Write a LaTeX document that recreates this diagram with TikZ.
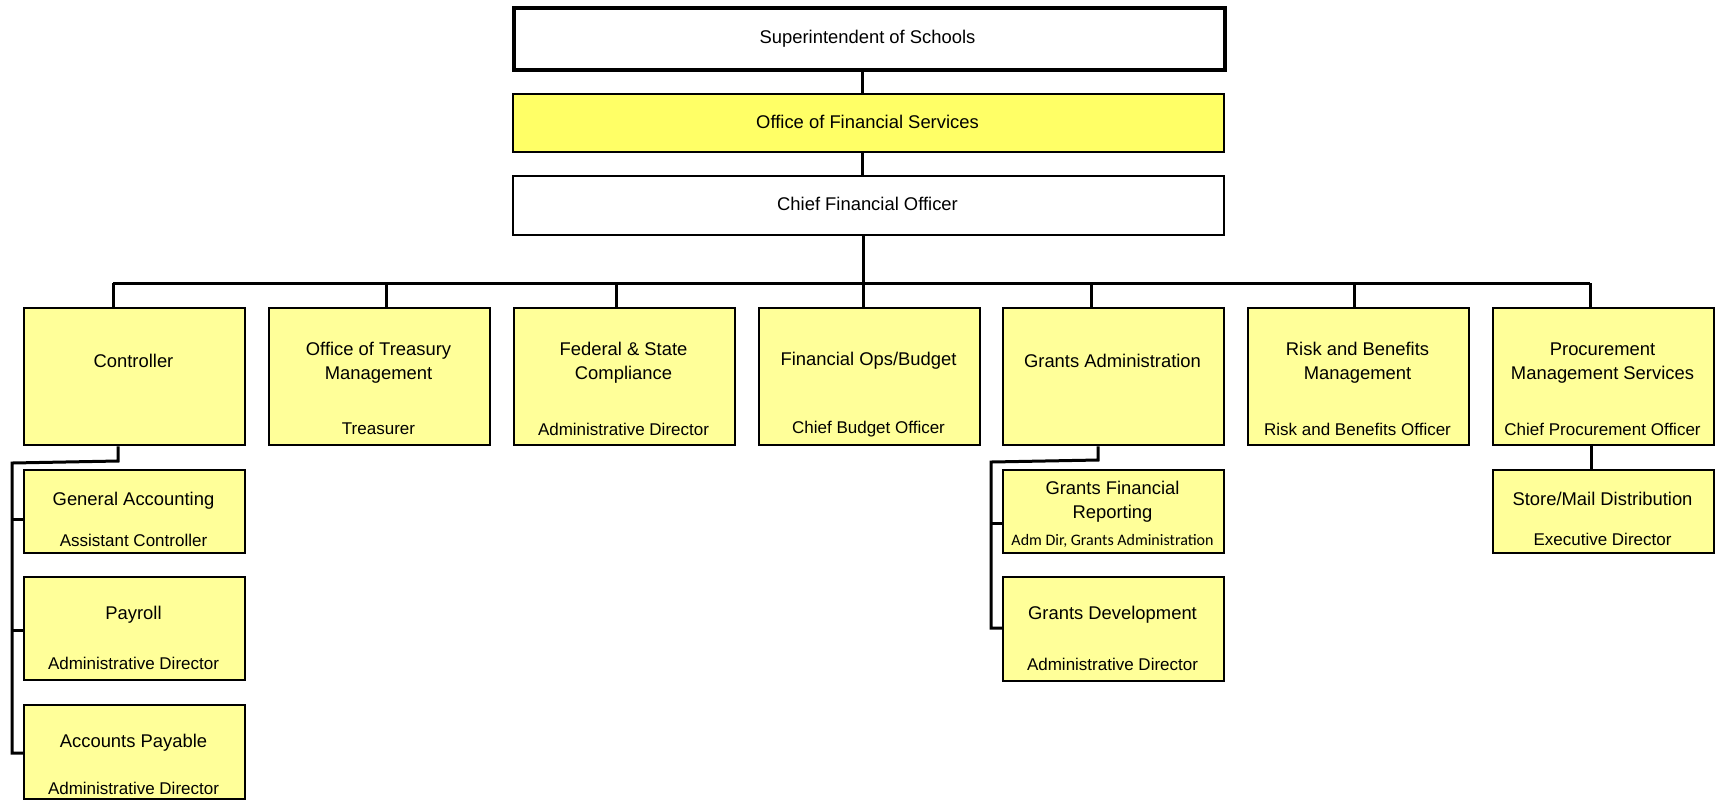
\documentclass[tikz,border=0pt]{standalone}
\usepackage{fontspec}
\setmainfont{Liberation Sans}
\newfontfamily\calfont{Carlito}
\definecolor{paleyellow}{HTML}{FFFF99}
\definecolor{brightyellow}{HTML}{FFFF66}
\begin{document}
\begin{tikzpicture}[x=0.5pt,y=-0.5pt,
  box/.style={draw=black, line width=1.2pt, rectangle, anchor=north west, inner sep=0pt},
  pale/.style={box, fill=paleyellow},
  bw/.style={minimum width=#1*0.5pt},
  bh/.style={minimum height=#1*0.5pt},
  txt/.style={font=\fontsize{9.2}{12}\selectfont, inner sep=0pt, align=center, anchor=center},
  sub/.style={font=\fontsize{8.5}{11}\selectfont, inner sep=0pt, anchor=center},
  small/.style={font=\calfont\fontsize{8}{10}\selectfont, inner sep=0pt, anchor=center},
  link/.style={draw=black, line width=1.5pt, line join=miter}
]
\useasboundingbox (0,0) rectangle (1716,800);

% ---------- top of the hierarchy ----------
\node[box, line width=2.2pt, fill=white, bw=711, bh=62] (super) at (512,6) {};
\node[box, fill=brightyellow, bw=711, bh=58] (ofs) at (512,93) {};
\node[box, fill=white, bw=711, bh=59] (cfo) at (512,175) {};
\node[txt] (super-t) at (867.5,39) {Superintendent of Schools};
\node[txt] (ofs-t) at (867.5,122) {Office of Financial Services};
\node[txt] (cfo-t) at (867.5,204) {Chief Financial Officer};

% ---------- divisions ----------
\node[pale, bw=221, bh=137] (ctrl)  at (23,307) {};
\node[pale, bw=221, bh=137] (treas) at (268,307) {};
\node[pale, bw=221, bh=137] (fed)   at (513,307) {};
\node[pale, bw=221, bh=137] (ops)   at (758,307) {};
\node[pale, bw=221, bh=137] (grant) at (1002,307) {};
\node[pale, bw=221, bh=137] (risk)  at (1247,307) {};
\node[pale, bw=221, bh=137] (proc)  at (1492,307) {};

\node[txt] (ctrl-t)  at (133.5,361) {Controller};
\node[txt] (treas-t) at (378.5,363) {Office of Treasury\\Management};
\node[sub] (treas-s) at (378.5,429) {Treasurer};
\node[txt] (fed-t)   at (623.5,363) {Federal \& State\\Compliance};
\node[sub] (fed-s)   at (623.5,429) {Administrative Director};
\node[txt] (ops-t)   at (868.5,361) {Financial Ops/Budget};
\node[sub] (ops-s)   at (868.5,429) {Chief Budget Officer};
\node[txt] (grant-t) at (1112.5,361) {Grants Administration};
\node[txt] (risk-t)  at (1357.5,363) {Risk and Benefits\\Management};
\node[sub] (risk-s)  at (1357.5,429) {Risk and Benefits Officer};
\node[txt] (proc-t)  at (1602.5,363) {Procurement\\Management Services};
\node[sub] (proc-s)  at (1602.5,429) {Chief Procurement Officer};

% ---------- units under the Controller ----------
\node[pale, bw=221, bh=83]  (ga)  at (23,469) {};
\node[pale, bw=221, bh=103] (pay) at (23,576) {};
\node[pale, bw=221, bh=94]  (ap)  at (23,704) {};
\node[txt] (ga-t)  at (133.5,501) {General Accounting};
\node[sub] (ga-s)  at (133.5,540) {Assistant Controller};
\node[txt] (pay-t) at (133.5,615) {Payroll};
\node[sub] (pay-s) at (133.5,663) {Administrative Director};
\node[txt] (ap-t)  at (133.5,743) {Accounts Payable};
\node[sub] (ap-s)  at (133.5,788) {Administrative Director};

% ---------- units under Grants Administration ----------
\node[pale, bw=221, bh=83]  (gfr) at (1002,469) {};
\node[pale, bw=221, bh=104] (gd)  at (1002,576) {};
\node[txt]   (gfr-t) at (1112.5,502) {Grants Financial\\Reporting};
\node[small] (gfr-s) at (1112.5,541) {Adm Dir, Grants Administration};
\node[txt]   (gd-t)  at (1112.5,615) {Grants Development};
\node[sub]   (gd-s)  at (1112.5,664) {Administrative Director};

% ---------- unit under Procurement ----------
\node[pale, bw=221, bh=83] (store) at (1492,469) {};
\node[txt] (store-t) at (1602.5,499) {Store/Mail Distribution};
\node[sub] (store-s) at (1602.5,539) {Executive Director};

% ---------- connectors ----------
\coordinate (trunk) at (862,0);
\coordinate (hub) at (863,283);
\coordinate (b1) at (113,283);
\coordinate (b2) at (386,283);
\coordinate (b3) at (616,283);
\coordinate (b5) at (1091,283);
\coordinate (b6) at (1354,283);
\coordinate (b7) at (1590,283);

\draw[link] (super.south -| trunk) -- (ofs.north -| trunk);
\draw[link] (ofs.south -| trunk) -- (cfo.north -| trunk);
\draw[link] (cfo.south -| hub) -- (hub);
\draw[link] (b1) -- (b7);
\draw[link] (b1) -- (b1 |- ctrl.north);
\draw[link] (b2) -- (b2 |- treas.north);
\draw[link] (b3) -- (b3 |- fed.north);
\draw[link] (hub) -- (hub |- ops.north);
\draw[link] (b5) -- (b5 |- grant.north);
\draw[link] (b6) -- (b6 |- risk.north);
\draw[link] (b7) -- (b7 |- proc.north);

% Controller branch
\coordinate (cbend) at (118,461);
\coordinate (cspine) at (12,463);
\coordinate (cend) at (12,753);
\coordinate (gatick) at ([yshift=-4pt]ga.west);
\coordinate (paytick) at ([yshift=-1pt]pay.west);
\draw[link] (ctrl.south -| cbend) -- (cbend) -- (cspine) -- (cend) -- (cend -| ap.west);
\draw[link] (cspine |- gatick) -- (gatick);
\draw[link] (cspine |- paytick) -- (paytick);

% Grants branch
\coordinate (gbend) at (1098,460);
\coordinate (gspine) at (991,462);
\coordinate (gend) at (991,628);
\coordinate (gfrtick) at ([yshift=-6pt]gfr.west);
\draw[link] (grant.south -| gbend) -- (gbend) -- (gspine) -- (gend) -- (gend -| gd.west);
\draw[link] (gspine |- gfrtick) -- (gfrtick);

% Procurement branch
\coordinate (pdrop) at (1591,0);
\draw[link] (proc.south -| pdrop) -- (store.north -| pdrop);
\end{tikzpicture}
\end{document}
